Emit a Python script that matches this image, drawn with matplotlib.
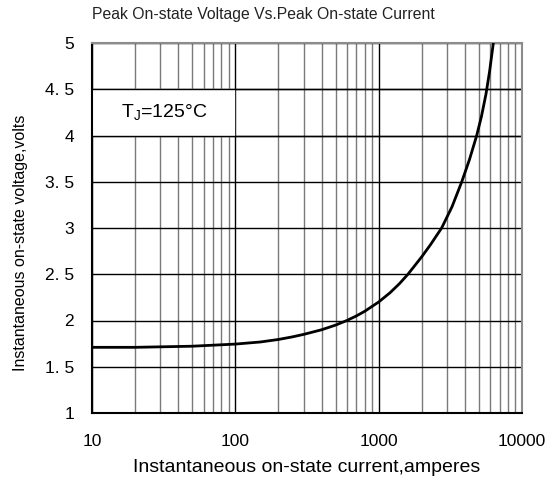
import matplotlib
matplotlib.use('Agg')
import matplotlib.pyplot as plt
from matplotlib.ticker import LogLocator, FixedLocator, NullFormatter

plt.rcParams['font.family'] = ['Liberation Sans', 'DejaVu Sans']

# curve
current = [10, 20, 50, 100, 150, 200, 250, 300, 400, 500, 600, 700, 800,
           1000, 1200, 1400, 1600, 1800, 2000, 2300, 2750, 3250, 3800, 4300,
           4830, 5220, 5610, 5950, 6310]
voltage = [1.71, 1.71, 1.722, 1.745, 1.768, 1.795, 1.823, 1.85, 1.90, 1.95,
           2.0, 2.05, 2.10, 2.20, 2.30, 2.40, 2.50, 2.60, 2.69, 2.82, 3.0,
           3.23, 3.5, 3.74, 4.0, 4.21, 4.45, 4.70, 5.0]

y_ticks = [1, 1.5, 2, 2.5, 3, 3.5, 4, 4.5, 5]
y_labels = ['1', '1. 5', '2', '2. 5', '3', '3. 5', '4', '4. 5', '5']
x_ticks = [10, 100, 1000, 10000]
x_labels = ['10', '100', '1000', '10000']

fig = plt.figure(figsize=(5.47, 4.84), dpi=100)
ax = fig.add_axes([92 / 547, 71 / 484, 430 / 547, 370 / 484])

ax.set_xscale('log')
ax.set_xlim(10, 10000)
ax.set_ylim(1, 5)

ax.xaxis.set_major_locator(FixedLocator(x_ticks))
ax.xaxis.set_minor_locator(LogLocator(base=10, subs=range(2, 10)))
ax.xaxis.set_minor_formatter(NullFormatter())
ax.set_xticklabels(x_labels)
ax.set_yticks(y_ticks)
ax.set_yticklabels(y_labels)
ax.tick_params(which='both', length=0, labelsize=12.5)
ax.tick_params(axis='x', pad=15)
ax.tick_params(axis='y', pad=13)

ax.grid(True, which='major', axis='both', color='black', lw=1.0)
ax.grid(True, which='minor', axis='x', color='#7a7a7a', lw=1.0)
ax.set_axisbelow(True)

# white label box covering the grid cell
ax.fill_between([10, 98], 4.0, 4.5, color='white', zorder=1.5)
ax.axhline(4.0, color='black', lw=1.0, zorder=1.6)
ax.axhline(4.5, color='black', lw=1.0, zorder=1.6)
ax.text(32, 4.25, r'T$_\mathregular{J}$=125°C', ha='center', va='center',
        fontsize=14, zorder=3)

ax.plot(current, voltage, color='black', lw=2.0, zorder=4)

for side in ['left', 'bottom']:
    ax.spines[side].set_color('black')
    ax.spines[side].set_linewidth(1.5)
for side in ['top', 'right']:
    ax.spines[side].set_color('#8c8c8c')
    ax.spines[side].set_linewidth(1.5)

ax.set_xlabel('Instantaneous on-state current,amperes', fontsize=14, labelpad=7)
ax.set_ylabel('Instantaneous on-state voltage,volts', fontsize=11.5)
ax.yaxis.set_label_coords(-64 / 430, 0.5 - 15 / 370)
fig.text(92 / 547, 1 - 15 / 484, 'Peak On-state Voltage Vs.Peak On-state Current',
         ha='left', va='center', fontsize=11.3, color='#222222')

fig.savefig('out.png', dpi=100)
